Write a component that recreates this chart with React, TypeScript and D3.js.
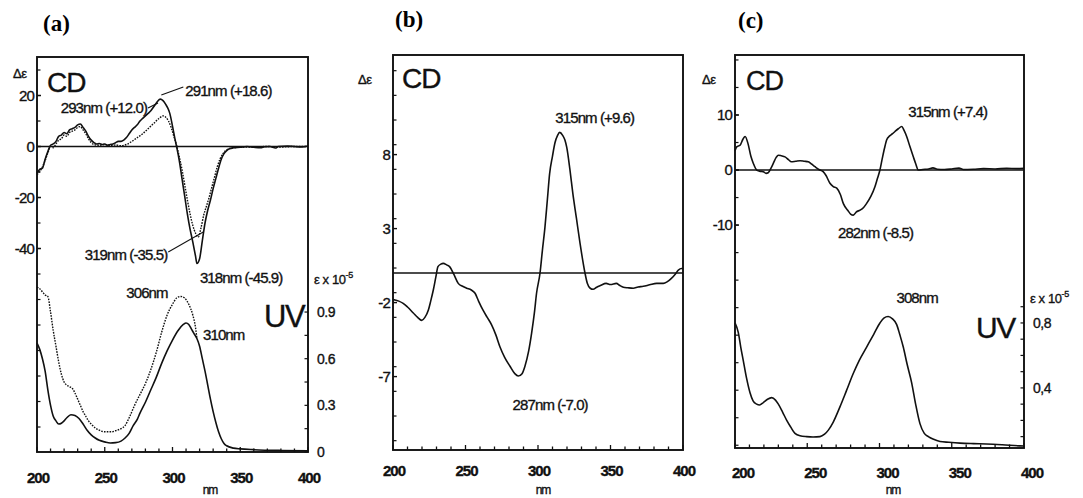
import React from 'react';
import * as d3 from 'd3';

type Pt = [number, number];

// ---- panel (a): CD of two samples (solid / dotted) ----
const aCdSolid: Pt[] = [
  [200, -10.5], [202, -9], [204, -8.5], [206, -5], [208, -2], [210, 0.5], [212, 1], [214, 2], [216, 4],
  [218, 4.5], [220, 5.5], [222, 5], [224, 6.5], [226, 7], [228, 7.5], [230, 8.5], [232, 8.8], [234, 7.5],
  [236, 6], [238, 4], [240, 2.5], [242, 1.5], [244, 1], [246, 1.2], [248, 0.8], [250, 1], [252, 0.5],
  [254, 0.8], [256, 1], [258, 1.5], [260, 2], [262, 2], [264, 2.5], [266, 3.5], [268, 5], [270, 6.5],
  [272, 7.5], [274, 8.5], [276, 10], [278, 11], [280, 12], [282, 13], [284, 14], [286, 15.5], [288, 17],
  [290, 18.3], [291, 18.6], [293, 18], [295, 16.5], [297, 14.5], [298, 13], [300, 8], [302, 2.5], [303, 0],
  [305, -5.5], [307, -12.5], [309, -19.5], [311, -26.5], [313, -32.5], [315, -37.5], [317, -43], [318, -45.9],
  [320, -44], [322, -37], [324, -30], [326, -25], [328, -21], [330, -16.5], [332, -12.5], [334, -8.5],
  [336, -5], [338, -2.8], [340, -1.6], [342, -0.9], [345, -0.5], [350, -0.3], [355, 0], [360, -0.3],
  [365, -0.5], [368, -0.1], [372, 0], [376, -0.6], [378, 0], [385, 0.2], [390, 0], [395, -0.2], [400, 0.2],
];
const aCdDotted: Pt[] = [
  [200, -11], [203, -9], [206, -5.5], [208, -2.5], [210, 0], [212, -0.5], [214, 1], [216, 2.5], [218, 3],
  [220, 4.5], [222, 4], [224, 5.5], [226, 6], [228, 6.5], [230, 7.5], [232, 7.8], [234, 6.5], [236, 5],
  [238, 3], [240, 1.5], [242, 0.8], [246, 0.5], [250, 0.8], [254, 0.3], [258, 0.6], [262, 0.3], [266, 0.8],
  [270, 2], [274, 3.5], [278, 5], [282, 7], [286, 9], [290, 11], [293, 12], [295, 11.5], [297, 10],
  [299, 7.5], [301, 4], [303, 0.5], [305, -4], [307, -9], [309, -15], [311, -21], [313, -26.5], [315, -31],
  [317, -34], [319, -35.5], [321, -32], [323, -27], [325, -23.5], [327, -20], [329, -16], [331, -12],
  [333, -8], [335, -5], [337, -3], [339, -1.7], [341, -1], [344, -0.5], [350, -0.3], [360, -0.2], [370, 0],
  [380, -0.2], [390, 0], [400, 0],
];

// ---- panel (a): UV (epsilon x 10^-5) ----
const aUvSolid: Pt[] = [
  [200, 0.7], [202, 0.66], [204, 0.6], [206, 0.52], [208, 0.4], [210, 0.3], [212, 0.23], [214, 0.2],
  [216, 0.18], [218, 0.185], [220, 0.2], [222, 0.22], [225, 0.24], [228, 0.235], [231, 0.215], [234, 0.18],
  [237, 0.14], [240, 0.11], [243, 0.09], [246, 0.075], [250, 0.065], [254, 0.058], [258, 0.06], [262, 0.07],
  [265, 0.09], [268, 0.12], [271, 0.17], [274, 0.21], [276, 0.25], [280, 0.32], [284, 0.4], [288, 0.48],
  [292, 0.57], [296, 0.65], [300, 0.72], [304, 0.78], [308, 0.82], [310, 0.83], [312, 0.82], [314, 0.79],
  [316, 0.76], [318, 0.73],
];
const aUvDotted: Pt[] = [
  [200, 1.06], [202, 1.05], [204, 1.03], [206, 1.01], [208, 1.0], [210, 0.9], [212, 0.78], [214, 0.68],
  [216, 0.58], [218, 0.5], [220, 0.45], [222, 0.43], [224, 0.42], [226, 0.41], [228, 0.38], [230, 0.34],
  [232, 0.3], [234, 0.26], [236, 0.23], [238, 0.2], [240, 0.18], [243, 0.155], [246, 0.14], [250, 0.13],
  [255, 0.13], [259, 0.14], [262, 0.15], [265, 0.17], [268, 0.22], [272, 0.3], [276, 0.37], [280, 0.44],
  [284, 0.53], [288, 0.64], [292, 0.77], [296, 0.88], [300, 0.95], [303, 0.99], [306, 1.0], [309, 0.99],
  [312, 0.95], [315, 0.88], [317, 0.8], [318, 0.73],
];
const aUvTail: Pt[] = [
  [320, 0.68], [322, 0.6], [324, 0.52], [326, 0.43], [328, 0.34], [330, 0.26], [332, 0.19], [334, 0.13],
  [336, 0.085], [338, 0.055], [340, 0.04], [345, 0.025], [350, 0.02], [360, 0.015], [380, 0.01], [400, 0.008],
];

// ---- panel (b): CD ----
const bCd: Pt[] = [
  [200, -1.8], [201.4, -1.82], [204, -1.9], [207, -2.05], [210, -2.3], [214, -2.7], [217, -3.0], [219.8, -3.2],
  [222, -3.0], [224.4, -2.5], [226, -1.9], [227.8, -1.15], [229.5, -0.3], [231, 0.43], [233, 0.6], [234.7, 0.65],
  [237, 0.55], [239, 0.43], [242, -0.1], [245, -0.7], [248, -0.9], [250.8, -1.03], [254, -1.15], [256.6, -1.37],
  [259, -1.9], [262, -2.5], [265, -3.0], [268, -3.5], [271, -4.2], [273.8, -5.0], [277, -5.7], [280.7, -6.3],
  [284, -6.8], [286.4, -6.96], [289, -6.8], [291, -6.3], [293.5, -5.3], [295.6, -4.06], [297.5, -2.7], [299, -1.37],
  [301.4, 0], [303, 1.5], [304.8, 3.1], [306.5, 5.0], [308, 6.7], [310, 7.9], [311.7, 8.8], [313.5, 9.3],
  [315, 9.5], [317, 9.3], [318.5, 9.0], [319.8, 8.5], [322, 7.0], [324, 5.4], [326.5, 3.7], [329, 2.0],
  [332.4, 0], [334, -0.7], [336, -1.03], [338, -1.1], [340.5, -0.96], [343, -0.85], [347, -0.7], [350, -0.78],
  [354, -0.7], [356.5, -0.85], [358.9, -0.96], [362, -1.0], [365.7, -1.03], [369, -0.95], [372.6, -0.9],
  [377, -0.8], [381.8, -0.7], [386.4, -0.7], [389, -0.6], [392, -0.36], [394.5, -0.1], [396.8, 0.2], [399, 0.3],
  [400, 0.3],
];

// ---- panel (c): CD and UV ----
const cCd: Pt[] = [
  [200, 3.5], [201.2, 4.2], [203.5, 4.5], [205.5, 5.6], [207, 6.1], [209, 4.8], [211, 2.5], [212.7, 1.2],
  [215, 0], [217, -0.2], [219.6, -0.3], [221.5, -0.6], [223, -0.5], [225, 0.4], [226.5, 1.2], [228.5, 2.3],
  [230, 2.7], [232, 2.6], [234.6, 2.4], [237, 1.9], [239, 1.5], [242, 1.6], [245, 1.7], [248, 1.6],
  [250.7, 1.5], [253, 1.1], [255.4, 0.6], [258, 0.1], [261, -0.3], [263, -1.0], [265.7, -2.4], [268, -3.0],
  [270.4, -3.3], [273, -4.5], [275, -6.1], [278, -7.3], [280, -8], [281.9, -8.2], [284, -7.6], [286.5, -7.3],
  [289, -6.8], [291, -6.1], [294, -4.8], [296.9, -3.0], [298.5, -1.6], [300.3, 0], [302, 2.2], [303.5, 4],
  [305, 5.5], [307, 6.2], [309, 6.6], [310.7, 7.0], [313, 7.5], [315.4, 7.9], [317, 7.2], [318.8, 6.1],
  [321, 4.3], [323.4, 2.4], [325, 1.2], [326.9, 0], [330, 0.1], [334, 0.2], [337, 0.4], [340, 0.15],
  [345, 0.1], [350, 0.2], [355, 0.35], [358, 0.1], [365, 0.15], [372, 0.25], [380, 0.2], [388, 0.3],
  [395, 0.25], [400, 0.3],
];
const cUv: Pt[] = [
  [200, 0.8], [202.3, 0.74], [204, 0.65], [205.7, 0.57], [208, 0.46], [210.4, 0.37], [212.5, 0.32], [215, 0.3],
  [217, 0.295], [219.6, 0.31], [222.5, 0.33], [225.4, 0.34], [228, 0.325], [230, 0.3], [233, 0.25], [235.8, 0.2],
  [238.5, 0.16], [241.5, 0.12], [245, 0.105], [249.6, 0.1], [254, 0.098], [258.8, 0.1], [262, 0.115],
  [264.6, 0.14], [268, 0.19], [272.7, 0.285], [277, 0.38], [281.9, 0.49], [286, 0.57], [291, 0.65], [296, 0.73],
  [300.3, 0.8], [303, 0.83], [306, 0.84], [309, 0.825], [311.9, 0.79], [314, 0.73], [316.5, 0.65], [319, 0.55],
  [322.3, 0.43], [325, 0.3], [328, 0.18], [331, 0.12], [333.8, 0.1], [337, 0.085], [341.9, 0.07], [348, 0.065],
  [355.7, 0.06], [365, 0.057], [374, 0.055], [385, 0.05], [397, 0.043], [400, 0.042],
];

// ---- tick labels ----
const xTickLabels = [200, 250, 300, 350, 400];
const aCdTicks = [20, 0, -20, -40];
const aUvTicks = [0, 0.3, 0.6, 0.9];
const bCdTicks = [8, 3, -2, -7];
const cCdTicks = [10, 0, -10];
const cUvTicks = [0.4, 0.8];

const SANS = "'Liberation Sans', Arial, Helvetica, sans-serif";
const SERIF = "'Liberation Serif', 'Times New Roman', serif";
const INK = '#111';

// scanned print looks a bit heavier than a clean font
const inkText = { fill: INK, stroke: INK, strokeWidth: 0.35 };

type Curve = { data: Pt[]; axis: 'cd' | 'uv'; dotted?: boolean };
type Note = {
  text: string; nm: number; v: number; axis: 'cd' | 'uv';
  dx: number; dy: number; anchor: 'start' | 'middle' | 'end';
  leader?: [number, number, number, number];
};
type PanelCfg = {
  label: string; labelX: number; labelY: number;
  left: number; right: number; top: number; bottom: number;
  cdDomain: [number, number]; uvDomain?: [number, number];
  cdTicks: number[]; cdMinor: number[]; cdFmt: (v: number) => string;
  uvTicks?: number[]; uvMinor?: number[]; uvFmt?: (v: number) => string;
  curves: Curve[]; notes: Note[];
  cdText: [number, number, number]; uvText?: [number, number, number];
  deltaX: number; deltaY: number; epsY?: number;
  xLabelY: number; xLabelDx: number; nmX: number; nmY: number;
};

const panels: PanelCfg[] = [
  {
    label: '(a)', labelX: 43, labelY: 31,
    left: 37, right: 308, top: 57, bottom: 452,
    cdDomain: [-119.8, 35.1], uvDomain: [0, 2.54],
    cdTicks: aCdTicks, cdMinor: d3.range(-110, 35, 10), cdFmt: (v) => String(v),
    uvTicks: aUvTicks, uvMinor: d3.range(0, 0.91, 0.15), uvFmt: (v) => String(v),
    curves: [
      { data: aCdSolid, axis: 'cd' },
      { data: aCdDotted, axis: 'cd', dotted: true },
      { data: aUvSolid.concat(aUvTail), axis: 'uv' },
      { data: aUvDotted, axis: 'uv', dotted: true },
    ],
    notes: [
      { text: '291nm (+18.6)', nm: 291, v: 18.6, axis: 'cd', dx: 25, dy: -3, anchor: 'start', leader: [1, -4, 23, -12] },
      { text: '293nm (+12.0)', nm: 293, v: 12, axis: 'cd', dx: -16, dy: -3, anchor: 'end', leader: [-15, -8, -5, -13] },
      { text: '319nm (-35.5)', nm: 319, v: -35.5, axis: 'cd', dx: -31, dy: 23, anchor: 'end', leader: [-30, 15, 5, -5] },
      { text: '318nm (-45.9)', nm: 318, v: -45.9, axis: 'cd', dx: 3, dy: 19.5, anchor: 'start' },
      { text: '306nm', nm: 306, v: 1.0, axis: 'uv', dx: -13, dy: 2, anchor: 'end' },
      { text: '310nm', nm: 310, v: 0.83, axis: 'uv', dx: 17, dy: 17, anchor: 'start' },
    ],
    cdText: [47, 92, 28], uvText: [264, 327, 31],
    deltaX: 13, deltaY: 78, epsY: 284,
    xLabelY: 483, xLabelDx: 1, nmX: 210, nmY: 494,
  },
  {
    label: '(b)', labelX: 395, labelY: 27,
    left: 393, right: 683, top: 55, bottom: 450,
    cdDomain: [-11.96, 14.73],
    cdTicks: bCdTicks, cdMinor: d3.range(-11.33, 14, 5 / 3), cdFmt: (v) => String(v),
    curves: [{ data: bCd, axis: 'cd' }],
    notes: [
      { text: '315nm (+9.6)', nm: 315, v: 9.6, axis: 'cd', dx: 35, dy: -8, anchor: 'middle' },
      { text: '287nm (-7.0)', nm: 287, v: -7, axis: 'cd', dx: 31, dy: 33, anchor: 'middle' },
    ],
    cdText: [402, 88, 28],
    deltaX: 358, deltaY: 84,
    xLabelY: 476, xLabelDx: 1, nmX: 543, nmY: 494,
  },
  {
    label: '(c)', labelX: 738, labelY: 28,
    left: 735, right: 1024, top: 55, bottom: 448,
    cdDomain: [-50.5, 20.9], uvDomain: [0.03, 2.45],
    cdTicks: cCdTicks, cdMinor: d3.range(-50, 21, 5), cdFmt: (v) => String(v),
    uvTicks: cUvTicks, uvMinor: d3.range(0.1, 0.95, 0.1), uvFmt: (v) => String(v).replace('.', ','),
    curves: [
      { data: cCd, axis: 'cd' },
      { data: cUv, axis: 'uv' },
    ],
    notes: [
      { text: '315nm (+7.4)', nm: 315.4, v: 7.9, axis: 'cd', dx: 46, dy: -10, anchor: 'middle' },
      { text: '282nm (-8.5)', nm: 282, v: -8.2, axis: 'cd', dx: 22, dy: 23, anchor: 'middle' },
      { text: '308nm', nm: 306, v: 0.84, axis: 'uv', dx: 29, dy: -13, anchor: 'middle' },
    ],
    cdText: [746, 90, 27], uvText: [976, 338, 30],
    deltaX: 702, deltaY: 84, epsY: 303,
    xLabelY: 478, xLabelDx: 8, nmX: 893, nmY: 494,
  },
];

const Panel = ({ p }: { p: PanelCfg }) => {
  const x = d3.scaleLinear().domain([200, 400]).range([p.left, p.right]);
  const yCd = d3.scaleLinear().domain(p.cdDomain).range([p.bottom, p.top]);
  const yUv = p.uvDomain ? d3.scaleLinear().domain(p.uvDomain).range([p.bottom, p.top]) : yCd;
  const yOf = (axis: 'cd' | 'uv') => (axis === 'cd' ? yCd : yUv);

  const line = (c: Curve) =>
    d3.line<Pt>()
      .x((d) => x(d[0]))
      .y((d) => yOf(c.axis)(d[1]))
      .curve(d3.curveMonotoneX)(c.data) || '';

  const xMinor = d3.range(200, 401, 10);

  return (
    <g>
      <text x={p.labelX} y={p.labelY} fontFamily={SERIF} fontWeight="bold" fontSize={23}>{p.label}</text>

      {p.curves.map((c, i) => (
        <path key={i} d={line(c)} fill="none" stroke={INK}
          strokeWidth={c.dotted ? 1.4 : 1.6}
          strokeDasharray={c.dotted ? '1.6 1.2' : undefined}
          strokeLinejoin="round" />
      ))}

      {/* CD zero line */}
      <line x1={p.left} x2={p.right} y1={yCd(0)} y2={yCd(0)} stroke={INK} strokeWidth={1.6} />

      {/* frame */}
      <rect x={p.left} y={p.top} width={p.right - p.left} height={p.bottom - p.top}
        fill="none" stroke={INK} strokeWidth={1.9} />

      {/* bottom ticks */}
      {xMinor.map((t) => (
        <line key={'xt' + t} x1={x(t)} x2={x(t)} y1={p.bottom} y2={p.bottom - (t % 50 === 0 ? 5 : 3.5)}
          stroke={INK} strokeWidth={1.3} />
      ))}
      {xTickLabels.map((t) => (
        <text key={'xl' + t} x={x(t) + p.xLabelDx} y={p.xLabelY} textAnchor="middle"
          fontFamily={SANS} fontWeight="bold" fontSize={15} letterSpacing={-1} {...inkText}>{t}</text>
      ))}
      <text x={p.nmX} y={p.nmY} textAnchor="middle" fontFamily={SANS} fontSize={12}
        letterSpacing={-1} {...inkText}>nm</text>

      {/* left (CD) axis */}
      {p.cdMinor.map((t, i) => (
        <line key={'cm' + i} x1={p.left} x2={p.left + 3.5} y1={yCd(t)} y2={yCd(t)} stroke={INK} strokeWidth={1.2} />
      ))}
      {p.cdTicks.map((t) => (
        <g key={'cl' + t}>
          <line x1={p.left} x2={p.left + 4} y1={yCd(t)} y2={yCd(t)} stroke={INK} strokeWidth={1.4} />
          <text x={p.left - 3} y={yCd(t)} dy="0.36em" textAnchor="end" fontFamily={SANS}
            fontSize={15} letterSpacing={-0.8} {...inkText}>{p.cdFmt(t)}</text>
        </g>
      ))}
      <text x={p.deltaX} y={p.deltaY} fontFamily={SANS} fontSize={13} letterSpacing={-0.5} {...inkText}>Δε</text>
      <text x={p.cdText[0]} y={p.cdText[1]} fontFamily={SANS} fontSize={p.cdText[2]} letterSpacing={-1}
        {...inkText}>CD</text>

      {/* right (UV) axis */}
      {p.uvMinor && p.uvMinor.map((t, i) => (
        <line key={'um' + i} x1={p.right} x2={p.right - 3.5} y1={yUv(t)} y2={yUv(t)} stroke={INK} strokeWidth={1.2} />
      ))}
      {p.uvTicks && p.uvTicks.map((t) => (
        <text key={'ul' + t} x={p.right + 9} y={yUv(t)} dy="0.36em" fontFamily={SANS} fontSize={14}
          letterSpacing={-0.5} {...inkText}>{p.uvFmt ? p.uvFmt(t) : t}</text>
      ))}
      {p.epsY !== undefined && (
        <text x={p.right + 6} y={p.epsY} fontFamily={SANS} fontSize={13} letterSpacing={-0.4} {...inkText}>
          ε x 10<tspan dy={-6} fontSize={9}>-5</tspan>
        </text>
      )}
      {p.uvText && (
        <text x={p.uvText[0]} y={p.uvText[1]} fontFamily={SANS} fontSize={p.uvText[2]} letterSpacing={-1.5}
          {...inkText}>UV</text>
      )}

      {/* peak annotations */}
      {p.notes.map((n, i) => {
        const ax = x(n.nm);
        const ay = yOf(n.axis)(n.v);
        return (
          <g key={'n' + i}>
            {n.leader && (
              <line x1={ax + n.leader[0]} y1={ay + n.leader[1]} x2={ax + n.leader[2]} y2={ay + n.leader[3]}
                stroke={INK} strokeWidth={1.1} />
            )}
            <text x={ax + n.dx} y={ay + n.dy} textAnchor={n.anchor} fontFamily={SANS} fontSize={15}
              letterSpacing={-0.9} {...inkText}>{n.text}</text>
          </g>
        );
      })}
    </g>
  );
};

export default function App() {
  return (
    <svg width={1083} height={498} viewBox="0 0 1083 498"
      style={{ position: 'absolute', left: 0, top: 0, background: '#fff' }}>
      {panels.map((p) => <Panel key={p.label} p={p} />)}
    </svg>
  );
}
